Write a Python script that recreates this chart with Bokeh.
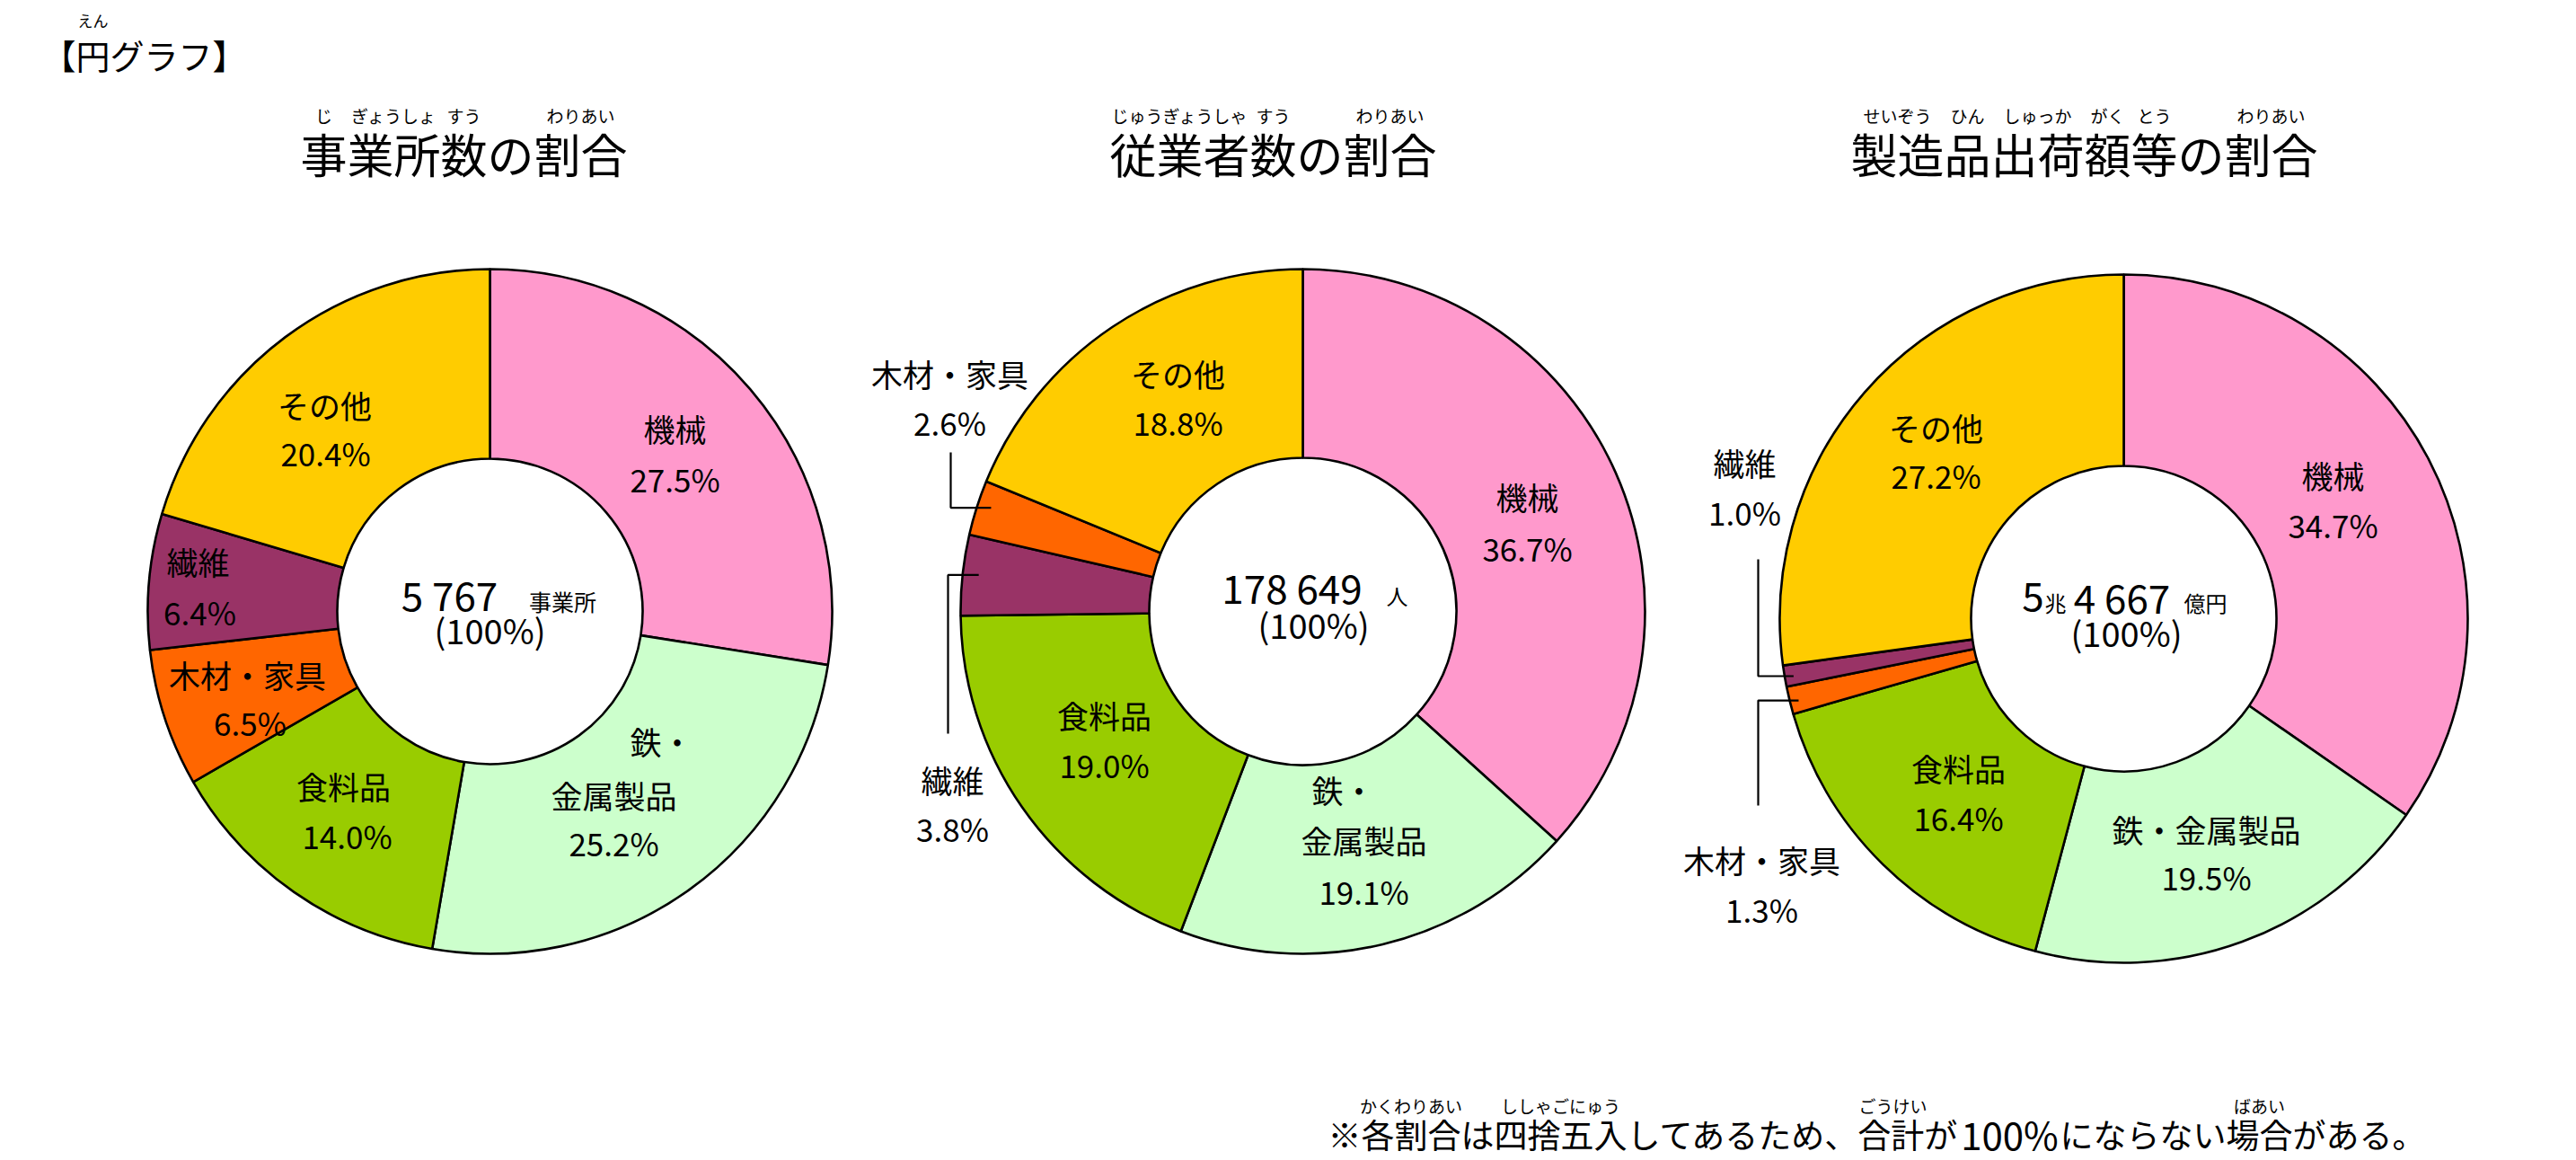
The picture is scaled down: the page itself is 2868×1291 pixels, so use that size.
import math

from bokeh.core.properties import value
from bokeh.embed import file_html
from bokeh.plotting import figure
from bokeh.resources import INLINE

W, H = 2868, 1291
FONT = "Noto Sans CJK JP"

# ---------------- data ----------------
establishment_categories = ["機械", "鉄・金属製品", "食料品", "木材・家具", "繊維", "その他"]
establishment_shares = [27.5, 25.2, 14.0, 6.5, 6.4, 20.4]

employee_categories = ["機械", "鉄・金属製品", "食料品", "繊維", "木材・家具", "その他"]
employee_shares = [36.7, 19.1, 19.0, 3.8, 2.6, 18.8]

shipment_categories = ["機械", "鉄・金属製品", "食料品", "木材・家具", "繊維", "その他"]
shipment_shares = [34.7, 19.5, 16.4, 1.3, 1.0, 27.2]

category_colors = {
    "機械": "#FF99CC",
    "鉄・金属製品": "#CCFFCC",
    "食料品": "#99CC00",
    "木材・家具": "#FF6600",
    "繊維": "#993366",
    "その他": "#FFCC00",
}

# ---------------- layout (screen pixels, y downward) ----------------
def Y(ys):
    return H - ys


pies = [
    dict(
        cats=establishment_categories, shares=establishment_shares,
        cx=545, cy=680, R=381, r=170,
        title="事業所数の割合", title_x=516,
        ruby=[("じ", 0, 0), ("ぎょうしょ", 1, 2), ("すう", 3, 3), ("わりあい", 5, 6)],
        labels={
            "機械": ([("機械", 751, 476)], (751, 532)),
            "鉄・金属製品": ([("鉄・", 736, 824), ("金属製品", 683, 884)], (683, 937)),
            "食料品": ([("食料品", 382, 874)], (386, 929)),
            "木材・家具": ([("木材・家具", 275, 750)], (278, 803)),
            "繊維": ([("繊維", 220, 624)], (222, 680)),
            "その他": ([("その他", 361, 450)], (362, 503)),
        },
        leaders={},
        center=[("5 767", 500, 660, 44), ("事業所", 626, 668, 25), ("(100%)", 545, 700, 38)],
    ),
    dict(
        cats=employee_categories, shares=employee_shares,
        cx=1450, cy=680, R=381, r=171,
        title="従業者数の割合", title_x=1417,
        ruby=[("じゅうぎょうしゃ", 0, 2), ("すう", 3, 3), ("わりあい", 5, 6)],
        labels={
            "機械": ([("機械", 1700, 552)], (1700, 609)),
            "鉄・金属製品": ([("鉄・", 1495, 878), ("金属製品", 1518, 934)], (1518, 991)),
            "食料品": ([("食料品", 1229, 795)], (1229, 850)),
            "繊維": ([("繊維", 1060, 867)], (1060, 921)),
            "木材・家具": ([("木材・家具", 1057, 415)], (1057, 469)),
            "その他": ([("その他", 1311, 415)], (1311, 469)),
        },
        leaders={"木材・家具": (1058, 503, 16), "繊維": (1055, 816, 18)},
        center=[("178 649", 1438, 652, 44), ("人", 1555, 662, 24), ("(100%)", 1462, 694, 38)],
    ),
    dict(
        cats=shipment_categories, shares=shipment_shares,
        cx=2364, cy=688, R=383, r=170,
        title="製造品出荷額等の割合", title_x=2320,
        ruby=[("せいぞう", 0, 1), ("ひん", 2, 2), ("しゅっか", 3, 4), ("がく", 5, 5),
              ("とう", 6, 6), ("わりあい", 8, 9)],
        labels={
            "機械": ([("機械", 2597, 528)], (2597, 583)),
            "鉄・金属製品": ([("鉄・金属製品", 2456, 922)], (2456, 975)),
            "食料品": ([("食料品", 2180, 854)], (2180, 909)),
            "木材・家具": ([("木材・家具", 1961, 956)], (1961, 1011)),
            "繊維": ([("繊維", 1942, 514)], (1942, 569)),
            "その他": ([("その他", 2155, 475)], (2155, 528)),
        },
        leaders={"繊維": (1957, 622, 10), "木材・家具": (1957, 896, 10)},
        center=[("5", 2263, 663, 44), ("兆", 2288, 670, 24), ("4 667", 2362, 663, 44),
                ("億円", 2455, 670, 24), ("(100%)", 2367, 703, 38)],
    ),
]

TITLE_Y, TITLE_SIZE = 170, 52
RUBY_Y, RUBY_SIZE = 128, 19
LABEL_SIZE = 35

p = figure(
    width=W, height=H, x_range=(0, W), y_range=(0, H),
    min_border=0, toolbar_location=None, output_backend="svg",
    x_axis_location=None, y_axis_location=None,
)
p.grid.visible = False
p.outline_line_color = None
p.background_fill_color = "white"
p.border_fill_color = "white"


def put_text(x, y, text, size, align="center", baseline="middle"):
    p.text(
        x=[x], y=[Y(y)], text=[text],
        text_font=value(FONT), text_font_size=value(f"{size}px"),
        text_align=align, text_baseline=baseline, text_color="black",
    )


def ruby_over(base_left, char_w, groups, y, size):
    for kana, i0, i1 in groups:
        cx = base_left + (i0 + i1 + 1) * char_w / 2
        put_text(cx, y, kana, size)


for pie in pies:
    cx, cy, R, r = pie["cx"], pie["cy"], pie["R"], pie["r"]
    total = sum(pie["shares"])
    starts, ends, mids = [], [], []
    acc = 0.0
    for v in pie["shares"]:
        f0, f1 = acc / total, (acc + v) / total
        acc += v
        starts.append(math.pi / 2 - 2 * math.pi * f0)
        ends.append(math.pi / 2 - 2 * math.pi * f1)
        mids.append(2 * math.pi * (f0 + f1) / 2)  # clockwise from top

    p.annular_wedge(
        x=[cx] * len(starts), y=[Y(cy)] * len(starts),
        inner_radius=r, outer_radius=R,
        start_angle=starts, end_angle=ends, direction="clock",
        fill_color=[category_colors[c] for c in pie["cats"]],
        line_color="black", line_width=2.6,
    )

    # category labels with their share
    for cat, v, th in zip(pie["cats"], pie["shares"], mids):
        lines, (px, py) = pie["labels"][cat]
        for txt, lx, ly in lines:
            put_text(lx, ly, txt, LABEL_SIZE)
        put_text(px, py, f"{v:.1f}%", LABEL_SIZE)
        if cat in pie["leaders"]:
            vx, vy, inset = pie["leaders"][cat]
            ex = cx + R * math.sin(th)
            ey = cy - R * math.cos(th)
            p.line(x=[vx, vx, ex + inset], y=[Y(vy), Y(ey), Y(ey)],
                   line_color="black", line_width=2.2)

    # centre totals
    for txt, tx, ty, size in pie["center"]:
        put_text(tx, ty, txt, size)

    # title with furigana
    n = len(pie["title"])
    put_text(pie["title_x"], TITLE_Y, pie["title"], TITLE_SIZE)
    ruby_over(pie["title_x"] - n * TITLE_SIZE / 2, TITLE_SIZE, pie["ruby"], RUBY_Y, RUBY_SIZE)

# heading
HEAD_SIZE, HEAD_X = 38, 160
put_text(HEAD_X, 60, "【円グラフ】", HEAD_SIZE)
ruby_over(HEAD_X - 3 * HEAD_SIZE, HEAD_SIZE, [("えん", 1, 1)], 22, 17)

# footnote
NOTE_SIZE, NOTE_Y = 37, 1261
note_left = "※各割合は四捨五入してあるため、合計が"
note_right = "にならない場合がある。"
NOTE_L, NOTE_R = 1478, 2700
put_text(NOTE_L, NOTE_Y, note_left, NOTE_SIZE, align="left")
put_text(2237, NOTE_Y, "100%", 42)
put_text(NOTE_R, NOTE_Y, note_right, NOTE_SIZE, align="right")
ruby_over(NOTE_L, NOTE_SIZE, [("かくわりあい", 1, 3), ("ししゃごにゅう", 5, 8), ("ごうけい", 16, 17)], 1230, 19)
ruby_over(NOTE_R - len(note_right) * NOTE_SIZE, NOTE_SIZE, [("ばあい", 5, 6)], 1230, 19)

open("out.html", "w").write(file_html(p, INLINE))
